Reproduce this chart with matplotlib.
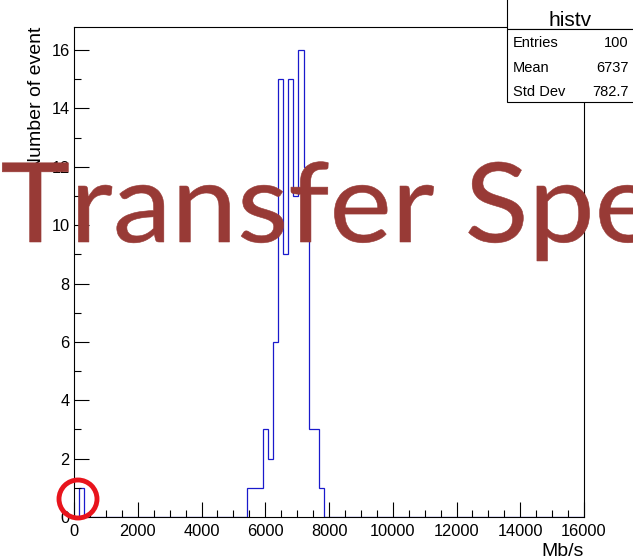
import numpy as np
import matplotlib.pyplot as plt
from matplotlib.patches import Rectangle, Circle, PathPatch
from matplotlib.textpath import TextPath
from matplotlib.font_manager import FontProperties
from matplotlib.transforms import Affine2D

# histogram: 100 bins from 0 to 16000 Mb/s, only the non-empty ones listed
n_bins = 100
x_min, x_max = 0, 16000
bin_index = [1, 34, 35, 36, 37, 38, 39, 40, 41, 42, 43, 44, 45, 46, 47, 48]
bin_count = [1, 1, 1, 1, 3, 2, 6, 15, 9, 15, 11, 16, 12, 3, 3, 1]

hist_name = "histv"
stat_names = ["Entries", "Mean", "Std Dev"]
stat_values = ["100", "6737", "782.7"]
banner = "Transfer Speed"

W, H = 633, 559
plt.rcParams['font.family'] = ['Liberation Sans', 'DejaVu Sans']

edges = np.linspace(x_min, x_max, n_bins + 1)
counts = np.zeros(n_bins)
counts[bin_index] = bin_count

fig = plt.figure(figsize=(W / 100, H / 100), dpi=100)
ax = fig.add_axes([74 / W, 1 - 517 / H, (584 - 74) / W, (517 - 26.7) / H])

ax.stairs(counts, edges, color='#1a1acc', lw=0.9)
ax.set_xlim(x_min, x_max)
ax.set_ylim(0, max(bin_count) * 1.05)

ax.set_xticks(np.arange(0, 16001, 2000))
ax.set_xticks(np.arange(0, 16001, 500), minor=True)
ax.set_yticks(np.arange(0, 17, 2))
ax.set_yticks(np.arange(0, 17, 1), minor=True)
ax.tick_params(which='both', direction='in', top=False, right=False,
               width=0.8, labelsize=11.8, colors='black')
ax.tick_params(which='major', length=10.5)
ax.tick_params(which='minor', length=5.3)
ax.tick_params(axis='x', pad=5)
ax.tick_params(axis='y', pad=3)
for s in ax.spines.values():
    s.set_linewidth(0.8)

ax.set_xlabel("Mb/s", loc='right', fontsize=14)
ax.xaxis.set_label_coords(1.0, -0.053)
ax.set_ylabel("Number of event", loc='top', fontsize=14)
ax.yaxis.set_label_coords(-0.056, 1.0)

# overlay in pixel coordinates for the stats box and annotations
ov = fig.add_axes([0, 0, 1, 1], zorder=5)
ov.set_xlim(0, W)
ov.set_ylim(H, 0)
ov.axis('off')
ov.patch.set_alpha(0)

ov.add_patch(Rectangle((507, -2), 140, 31.3, facecolor='white',
                       edgecolor='black', lw=0.8))
ov.add_patch(Rectangle((507, 29.3), 140, 72.4, facecolor='white',
                       edgecolor='black', lw=0.8))
ov.text(570, 26.5, hist_name, ha='center', va='baseline', fontsize=15)
for i, (name, val) in enumerate(zip(stat_names, stat_values)):
    yb = 47.3 + i * 24.4
    ov.text(513, yb, name, ha='left', va='baseline', fontsize=10.5)
    ov.text(628.5, yb, val, ha='right', va='baseline', fontsize=10.5)

# big banner, slightly stretched horizontally
tp = TextPath((0, 0), banner, size=110.5, prop=FontProperties(family='Lato'))
tp = Affine2D().scale(1.066, -1).translate(0.5, 242).transform_path(tp)
ov.add_patch(PathPatch(tp, facecolor='#983a36', edgecolor='#983a36',
                       lw=0.4, joinstyle='round'))

ov.add_patch(Circle((78, 499), 19, facecolor='none', edgecolor='#e8141c', lw=3.5))

fig.savefig("out.png", dpi=100)
